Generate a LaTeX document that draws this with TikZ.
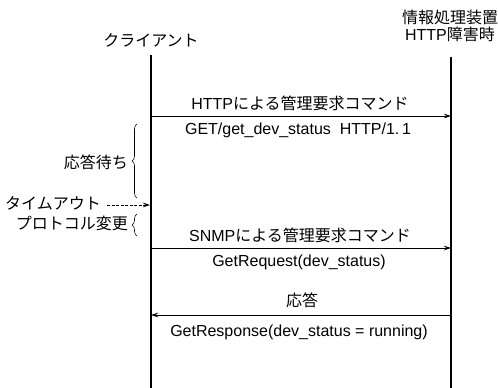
\documentclass[tikz,border=0pt]{standalone}
\usepackage{fontspec}
\setmainfont{Liberation Sans}
\newfontfamily\jpfont{Noto Sans CJK JP}
\newcommand{\jp}[1]{{\jpfont #1}}
\usetikzlibrary{arrows.meta,decorations.pathreplacing}
\begin{document}
\begin{tikzpicture}[x=1pt,y=-1pt,
  lbl/.style={inner sep=0pt,font=\fontsize{16}{17}\selectfont},
  msg/.style={line width=0.7pt,-{Stealth[length=7pt,width=4.5pt]}},
  life/.style={line width=1.4pt},
  brc/.style={decorate,decoration={brace,amplitude=5pt},line width=0.6pt}]
\useasboundingbox (0,0) rectangle (498,388);
% participants
\node[lbl] (cl) at (151,40) {\jp{クライアント}};
\node[lbl,align=center] (sv) at (450,26) {\jp{情報処理装置}\\[0pt]HTTP\jp{障害時}};
% lifelines
\coordinate (clTop) at (151,55);
\coordinate (clBot) at (151,388);
\coordinate (svTop) at (451,57);
\coordinate (svBot) at (451,388);
\draw[life] (clTop) -- (clBot);
\draw[life] (svTop) -- (svBot);
% HTTP request
\coordinate (a1) at (151,116);
\coordinate (b1) at (451,116);
\draw[msg] (a1) -- (b1);
\node[lbl] (t1) at (300,103) {HTTP\jp{による管理要求コマンド}};
\node[lbl] (u1) at (298,130) {GET/get\_dev\_status\ \ HTTP/1.\,1};
% waiting brace
\coordinate (w1) at (137,198);
\coordinate (w2) at (137,124);
\draw[brc] (w1) -- (w2);
\node[lbl,anchor=east] (wait) at (128,162) {\jp{応答待ち}};
% timeout
\node[lbl,anchor=east] (to) at (101,203) {\jp{タイムアウト}};
\coordinate (toEnd) at (150,205);
\draw[dashed,dash pattern=on 3pt off 1.5pt,line width=0.7pt,-{Stealth[length=7pt,width=4.5pt]}] (to.east) ++(6,2) -- (toEnd);
% protocol switch brace
\coordinate (p1) at (137,236);
\coordinate (p2) at (137,214);
\draw[brc] (p1) -- (p2);
\node[lbl,anchor=east] (pc) at (128,223) {\jp{プロトコル変更}};
% SNMP request
\coordinate (a2) at (151,248);
\coordinate (b2) at (451,248);
\draw[msg] (a2) -- (b2);
\node[lbl] (t2) at (300,235) {SNMP\jp{による管理要求コマンド}};
\node[lbl] (u2) at (299,262) {GetRequest(dev\_status)};
% response
\coordinate (a3) at (451,315);
\coordinate (b3) at (151,315);
\draw[msg] (a3) -- (b3);
\node[lbl] (t3) at (302,300) {\jp{応答}};
\node[lbl] (u3) at (299,332) {GetResponse(dev\_status = running)};
\end{tikzpicture}
\end{document}
